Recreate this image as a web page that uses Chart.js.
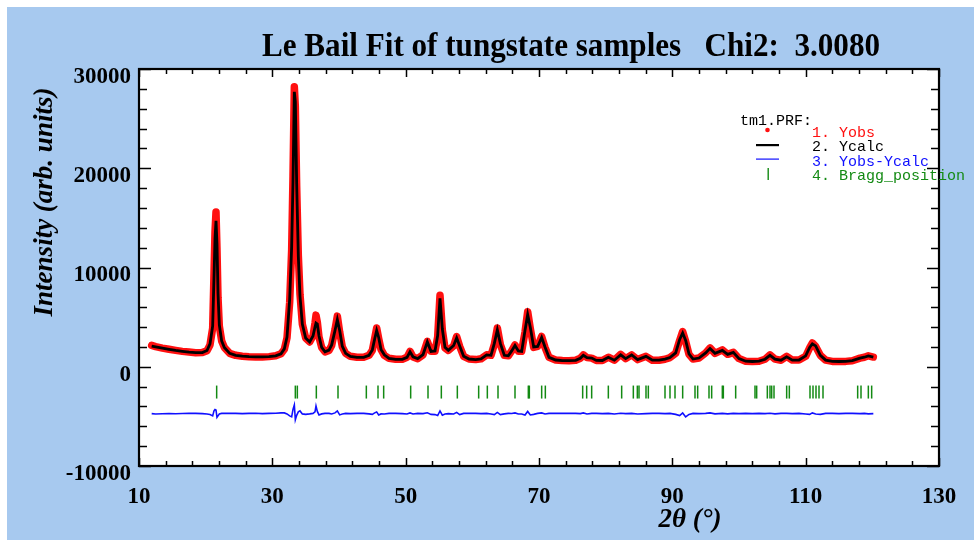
<!DOCTYPE html>
<html>
<head>
<meta charset="utf-8">
<script src="https://cdn.jsdelivr.net/npm/chart.js@4.4.1/dist/chart.umd.min.js"></script>
<style>html,body{margin:0;background:#fff}canvas{display:block}</style>
</head>
<body>
<canvas id="c" width="974" height="543"></canvas>
<script>
const twoTheta = [11.9,12.5,13.5,14.5,15.5,16.5,17.5,18.5,19.5,20.2,20.65,21.05,21.25,21.4,21.55,21.7,21.85,22.05,22.4,22.8,
  23.6,24.5,25.5,26.5,27.5,28.5,29.5,30.5,31.3,31.8,32.2,32.6,32.9,33.1,33.3,33.45,33.65,33.9,34.15,34.5,
  35.0,35.6,36.1,36.4,36.55,36.75,37.0,37.4,37.9,38.5,38.9,39.4,39.75,40.1,40.5,41.0,41.7,42.7,43.7,44.5,
  45.0,45.35,45.65,45.95,46.3,46.8,47.5,48.5,49.5,50.2,50.65,51.1,51.8,52.6,53.25,53.8,54.4,54.8,55.15,55.5,
  55.9,56.4,57.2,57.65,58.1,58.7,59.5,60.5,61.3,62.15,62.8,63.3,63.75,64.2,64.8,65.4,65.9,66.4,66.9,67.4,
  67.9,68.3,68.7,69.2,69.8,70.4,70.9,71.5,72.5,73.5,74.5,75.5,76.2,76.65,77.2,77.9,78.6,79.5,80.4,81.3,
  82.25,83.0,83.9,84.8,86.05,87.0,88.0,88.9,89.65,90.5,91.1,91.55,92.0,92.5,93.1,94.0,95.0,95.65,96.4,97.5,
  98.3,99.15,100.0,101.0,102.0,103.0,103.9,104.65,105.4,106.3,107.15,108.0,109.0,110.0,110.6,111.0,111.5,112.2,113.0,114.0,
  115.0,116.0,117.0,118.15,118.8,119.4,120.15];

const yObs = [2150,2030,1880,1760,1650,1550,1480,1420,1430,1620,2200,3900,9400,13600,15600,11800,7000,4100,2600,1950,
  1350,1150,1060,1010,990,990,1020,1100,1300,1750,2900,6500,11800,19200,28200,26200,18200,11200,7300,4300,
  2900,2500,3100,4400,5200,4500,3000,1950,1500,1650,2150,3750,5100,3500,2000,1350,1050,950,950,1150,
  1650,2850,3900,2850,1750,1150,850,750,750,950,1550,980,820,1200,2550,1550,1550,3000,7200,3700,
  1900,1650,2100,3050,2050,1050,780,720,800,1200,1150,2250,3900,2250,1150,1100,1600,2200,1550,1550,
  3500,5550,3850,1950,2050,3050,1950,950,680,620,610,650,850,1200,920,870,640,630,960,660,
  1250,820,1200,720,1050,660,660,760,920,1350,2650,3550,2550,1250,780,880,1400,1900,1350,1700,
  1250,1450,820,560,530,560,760,1200,770,660,1050,670,680,1050,1900,2400,2050,1150,670,540,
  530,540,610,870,960,1100,980];

const yCalc = [2080,2000,1870,1750,1640,1550,1470,1420,1430,1640,2300,4100,9000,12900,14700,12300,7400,4200,2600,1950,
  1350,1150,1060,1010,990,990,1020,1100,1300,1800,3000,6800,12100,18600,27700,26700,18400,11100,7100,4300,
  2900,2500,3100,4000,4400,4300,3100,1950,1500,1680,2200,3650,4750,3650,2050,1350,1050,950,950,1150,
  1700,2800,3650,2950,1750,1200,850,750,750,950,1500,1000,820,1220,2500,1550,1600,3150,6900,3800,
  1950,1650,2150,2900,2100,1050,780,720,800,1200,1150,2350,3700,2350,1150,1100,1600,2150,1600,1550,
  3650,5250,3950,2000,2050,2950,2000,950,680,620,610,650,850,1150,920,870,640,630,950,660,
  1200,820,1200,720,1050,660,660,760,920,1400,2750,3400,2650,1300,780,880,1400,1850,1350,1650,
  1250,1450,820,560,530,560,760,1150,770,660,1000,670,680,1100,1950,2300,2100,1150,670,540,
  530,540,610,870,960,1100,980];

const yDiff = [-4720,-4760,-4740,-4720,-4730,-4710,-4690,-4700,-4720,-4760,-4820,-4950,-4450,-4300,-4350,-5100,-4950,-4760,-4700,-4700,
  -4690,-4700,-4720,-4700,-4690,-4720,-4700,-4680,-4650,-4650,-4750,-4950,-5050,-4300,-3850,-5350,-4900,-4550,-4450,-4750,
  -4800,-4750,-4700,-4550,-3950,-4500,-4850,-4750,-4700,-4700,-4760,-4650,-4450,-4850,-4760,-4700,-4720,-4700,-4700,-4750,
  -4800,-4650,-4550,-4850,-4750,-4760,-4700,-4700,-4720,-4760,-4650,-4760,-4700,-4720,-4640,-4800,-4820,-4920,-4450,-4880,
  -4760,-4720,-4760,-4600,-4820,-4700,-4700,-4700,-4720,-4700,-4760,-4820,-4600,-4820,-4750,-4700,-4710,-4650,-4760,-4760,
  -4870,-4500,-4860,-4800,-4700,-4650,-4760,-4700,-4700,-4700,-4700,-4700,-4720,-4650,-4760,-4700,-4700,-4720,-4700,-4760,
  -4690,-4720,-4700,-4760,-4720,-4700,-4700,-4720,-4700,-4800,-4920,-4650,-5050,-4800,-4700,-4720,-4700,-4650,-4750,-4700,
  -4750,-4700,-4720,-4700,-4720,-4700,-4720,-4690,-4750,-4700,-4700,-4720,-4700,-4760,-4800,-4650,-4760,-4800,-4700,-4700,
  -4720,-4700,-4700,-4720,-4700,-4750,-4720];

const braggPos = [21.65,33.45,33.75,36.6,39.85,44.1,45.85,46.7,50.75,53.35,55.35,57.75,60.95,62.25,63.85,66.4,68.4,68.55,70.4,70.95,
  76.55,77.15,77.9,80.4,82.4,84.15,84.75,85.0,86.05,86.4,88.9,89.65,90.4,91.55,93.4,93.8,95.5,95.9,97.5,97.65,
  99.5,102.4,102.65,104.25,104.65,104.9,105.25,107.15,107.55,110.65,111.1,111.55,112.0,112.6,117.8,118.3,119.4,119.9];
const braggLevel = -2550;

const xTickValues = [10, 30, 50, 70, 90, 110, 130];
const yTickValues = [-10000, 0, 10000, 20000, 30000];
const xMinorStep = 4;
const yMinorStep = 2000;

const titleText = 'Le Bail Fit of tungstate samples   Chi2:  3.0080';
const xTitle = '2\u03B8 (\u00B0)';
const yTitle = 'Intensity (arb. units)';
const legendHead = 'tm1.PRF:';
const legendLabels = ['1. Yobs', '2. Ycalc', '3. Yobs-Ycalc', '4. Bragg_position'];

const BLUE_BG = '#a7c9ef';
const RED = '#ff1010', GREEN = '#138a13', BLUEL = '#1010ff';
const serif = '"Liberation Serif", "Times New Roman", serif';
const mono = '"Liberation Mono", "Courier New", monospace';

const pts = (ys) => twoTheta.map((x, i) => ({ x, y: ys[i] }));

const frame = {
  id: 'frame',
  beforeDraw(chart) {
    const { ctx, chartArea: a } = chart;
    ctx.save();
    ctx.fillStyle = '#fff';
    ctx.fillRect(0, 0, chart.width, chart.height);
    ctx.fillStyle = BLUE_BG;
    ctx.fillRect(7, 7, chart.width - 7, 533);
    ctx.fillStyle = '#fff';
    ctx.fillRect(a.left, a.top, a.width, a.height);
    ctx.restore();
  },
  afterDatasetsDraw(chart) {
    const { ctx, chartArea: a } = chart;
    const sx = chart.scales.x, sy = chart.scales.y;
    ctx.save();
    ctx.strokeStyle = '#000';
    ctx.lineWidth = 1.5;
    ctx.beginPath();
    for (let v = sx.min; v <= sx.max; v += xMinorStep) {
      const p = Math.round(sx.getPixelForValue(v)) + 0.5;
      const len = xTickValues.includes(v) ? 8 : 5;
      ctx.moveTo(p, a.bottom); ctx.lineTo(p, a.bottom - len);
      ctx.moveTo(p, a.top); ctx.lineTo(p, a.top + len);
    }
    for (let v = sy.min; v <= sy.max; v += yMinorStep) {
      const p = Math.round(sy.getPixelForValue(v)) + 0.5;
      const len = yTickValues.includes(v) ? 12 : 8;
      ctx.moveTo(a.left, p); ctx.lineTo(a.left + len, p);
      ctx.moveTo(a.right, p); ctx.lineTo(a.right - len, p);
    }
    ctx.stroke();
    ctx.lineWidth = 2.2;
    ctx.strokeRect(a.left, a.top, a.width, a.height);
    ctx.restore();
  },
  afterDraw(chart) {
    const { ctx } = chart;
    ctx.save();
    ctx.fillStyle = '#000';
    ctx.font = 'bold 33px ' + serif;
    ctx.textBaseline = 'alphabetic';
    ctx.textAlign = 'left';
    ctx.fillText(titleText, 262, 56, 618);

    ctx.font = 'italic bold 27px ' + serif;
    ctx.textAlign = 'center';
    ctx.fillText(xTitle, 690, 527);
    ctx.save();
    ctx.translate(52, 202);
    ctx.rotate(-Math.PI / 2);
    ctx.fillText(yTitle, 0, 0);
    ctx.restore();

    // legend
    ctx.textAlign = 'left';
    ctx.font = '15px ' + mono;
    ctx.fillStyle = '#000';
    ctx.fillText(legendHead, 740, 125);
    const colors = [RED, '#000', BLUEL, GREEN];
    legendLabels.forEach((t, i) => {
      ctx.fillStyle = colors[i];
      ctx.fillText(t, 812, 137 + i * 14.4);
    });
    ctx.fillStyle = RED;
    ctx.beginPath(); ctx.arc(767.5, 130, 2.3, 0, Math.PI * 2); ctx.fill();
    ctx.fillStyle = '#000';
    ctx.fillRect(756, 144, 23, 2.2);
    ctx.fillStyle = BLUEL;
    ctx.fillRect(756, 158.5, 23, 1.2);
    ctx.fillStyle = GREEN;
    ctx.fillRect(767.5, 168, 1.4, 12);
    ctx.restore();
  }
};

// dataset 0 is painted last, so the calculated curve sits on top of the observed band
new Chart(document.getElementById('c'), {
  type: 'line',
  data: {
    datasets: [
      { label: 'Ycalc', data: pts(yCalc), borderColor: '#000', borderWidth: 2.8, pointRadius: 0, tension: 0 },
      { label: 'Yobs', data: pts(yObs), borderColor: RED, borderWidth: 7.5, pointRadius: 0, tension: 0,
        borderCapStyle: 'round', borderJoinStyle: 'round' },
      { label: 'Yobs-Ycalc', data: pts(yDiff), borderColor: BLUEL, borderWidth: 1.6, pointRadius: 0, tension: 0 },
      { label: 'Bragg_position', data: braggPos.map(x => ({ x, y: braggLevel })), showLine: false,
        pointStyle: 'line', rotation: 90, pointRadius: 6.5, borderWidth: 1.5, borderColor: GREEN, backgroundColor: GREEN },
    ]
  },
  options: {
    responsive: false, animation: false, devicePixelRatio: 1,
    layout: { padding: { top: 69, right: 35, bottom: 3, left: 7 } },
    plugins: { legend: { display: false }, tooltip: { enabled: false }, title: { display: false } },
    scales: {
      x: {
        type: 'linear', min: 10, max: 130,
        afterBuildTicks: s => { s.ticks = xTickValues.map(v => ({ value: v })); },
        afterFit: s => { s.height = 74; },
        grid: { display: false, drawTicks: false }, border: { display: false },
        ticks: { color: '#000', padding: 17, maxRotation: 0, autoSkip: false,
          font: { family: serif, size: 23, weight: 'bold' }, callback: v => String(v) }
      },
      y: {
        min: -10000, max: 30000,
        afterBuildTicks: s => { s.ticks = yTickValues.map(v => ({ value: v })); },
        afterFit: s => { s.width = 132; },
        grid: { display: false, drawTicks: false }, border: { display: false },
        ticks: { color: '#000', padding: 8, labelOffset: 8, autoSkip: false,
          font: { family: serif, size: 23, weight: 'bold' }, callback: v => String(v) }
      }
    }
  },
  plugins: [frame]
});
</script>
</body>
</html>
